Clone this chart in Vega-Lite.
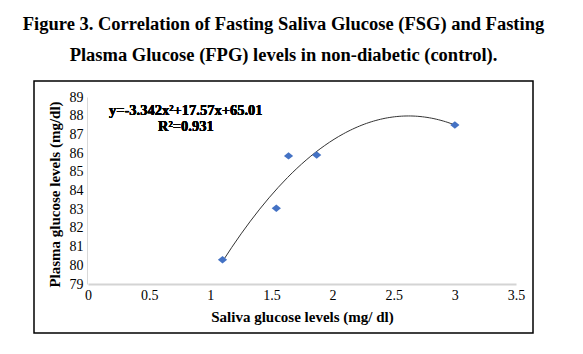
{
  "$schema": "https://vega.github.io/schema/vega-lite/v6.json",
  "width": 499,
  "height": 252,
  "autosize": {"type": "none"},
  "padding": {"left": 34, "top": 81, "right": 50, "bottom": 21},
  "background": "white",
  "title": {
    "text": ["Figure 3. Correlation of Fasting Saliva Glucose (FSG) and Fasting", "Plasma Glucose (FPG) levels in non-diabetic (control)."],
    "font": "'Liberation Serif', 'Times New Roman', 'DejaVu Serif', serif",
    "fontSize": 18.5,
    "fontWeight": "bold",
    "lineHeight": 31,
    "anchor": "middle",
    "offset": 17,
    "color": "black"
  },
  "data": {
    "values": [
      {"fsg": 1.1, "fpg": 80.3},
      {"fsg": 1.54, "fpg": 83.05},
      {"fsg": 1.64, "fpg": 85.85},
      {"fsg": 1.87, "fpg": 85.9},
      {"fsg": 3.0, "fpg": 87.5}
    ]
  },
  "encoding": {
    "x": {
      "field": "fsg",
      "type": "quantitative",
      "scale": {"domain": [0, 3.5], "range": [54, 482], "nice": false, "zero": false},
      "axis": {
        "title": "Saliva glucose levels (mg/ dl)",
        "offset": -49,
        "values": [0, 0.5, 1, 1.5, 2, 2.5, 3, 3.5],
        "format": "~g",
        "ticks": false,
        "tickSize": 0,
        "grid": false,
        "domainColor": "#d4d4d4",
        "domainWidth": 2,
        "labelFont": "'Liberation Serif', 'Times New Roman', 'DejaVu Serif', serif",
        "labelFontSize": 14,
        "labelColor": "black",
        "labelPadding": 4,
        "labelFlush": false,
        "labelOverlap": false,
        "titleFont": "'Liberation Serif', 'Times New Roman', 'DejaVu Serif', serif",
        "titleFontSize": 15,
        "titleFontWeight": "bold",
        "titleColor": "black",
        "titlePadding": 7
      }
    },
    "y": {
      "field": "fpg",
      "type": "quantitative",
      "scale": {"domain": [79, 89], "range": [203, 16], "nice": false, "zero": false},
      "axis": {
        "title": "Plasma glucose levels (mg/dl)",
        "offset": -53,
        "values": [79, 80, 81, 82, 83, 84, 85, 86, 87, 88, 89],
        "ticks": false,
        "tickSize": 0,
        "grid": false,
        "domainColor": "#d9d9d9",
        "domainWidth": 1,
        "labelFont": "'Liberation Serif', 'Times New Roman', 'DejaVu Serif', serif",
        "labelFontSize": 14,
        "labelColor": "black",
        "labelPadding": 4,
        "labelOverlap": false,
        "titleFont": "'Liberation Serif', 'Times New Roman', 'DejaVu Serif', serif",
        "titleFontSize": 15,
        "titleFontWeight": "bold",
        "titleColor": "black",
        "titlePadding": 7,
        "titleY": 113
      }
    }
  },
  "layer": [
    {
      "transform": [{"regression": "fpg", "on": "fsg", "method": "poly", "order": 2}],
      "mark": {"type": "line", "color": "#333333", "strokeWidth": 1}
    },
    {
      "mark": {"type": "point", "shape": "M-1,0L0,-0.8L1,0L0,0.8Z", "filled": true, "size": 85, "color": "#4472c4", "opacity": 1}
    },
    {
      "mark": {"type": "text", "text": "y=-3.342x²+17.57x+65.01", "font": "'Liberation Serif', 'Times New Roman', 'DejaVu Serif', serif", "fontSize": 14.5, "fontWeight": "bold", "color": "black", "align": "center", "baseline": "middle"},
      "encoding": {"x": {"datum": 0.8}, "y": {"datum": 88.25}}
    },
    {
      "mark": {"type": "text", "text": "R²=0.931", "font": "'Liberation Serif', 'Times New Roman', 'DejaVu Serif', serif", "fontSize": 14.5, "fontWeight": "bold", "color": "black", "align": "center", "baseline": "middle"},
      "encoding": {"x": {"datum": 0.8}, "y": {"datum": 87.4}}
    }
  ],
  "config": {"view": {"stroke": "black", "strokeWidth": 1.5}}
}
